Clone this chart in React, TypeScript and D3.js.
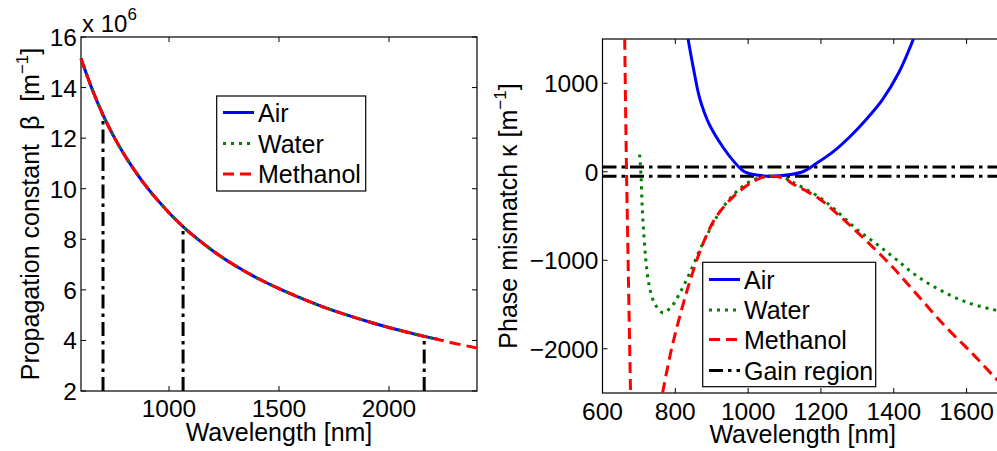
import React from 'react';
import * as d3 from 'd3';

// left panel: propagation constant (x 10^6 m^-1)
const betaWl = [600, 650, 700, 750, 800, 900, 1000, 1064, 1100, 1200, 1300, 1400, 1500, 1600, 1700, 1800, 1900, 2000, 2100, 2160, 2220, 2300, 2400];
const betaMethanol = [15.15, 13.95, 12.92, 12.05, 11.3, 10.05, 9.05, 8.5, 8.22, 7.54, 6.96, 6.47, 6.05, 5.67, 5.33, 5.03, 4.76, 4.51, 4.29, 4.16, 4.05, 3.88, 3.7];
const betaAir = betaMethanol.slice(0, 21);
const betaWater = betaMethanol.slice(0, 21);
const gainWl = [700, 1064, 2160];
const gainBeta = [12.92, 8.5, 4.16];
const betaXTicks = [1000, 1500, 2000];
const betaYTicks = [2, 4, 6, 8, 10, 12, 14, 16];

// right panel: phase mismatch (m^-1)
const airWl = [835, 851, 867, 894, 931, 960, 990, 1030, 1070, 1110, 1150, 1186, 1232, 1278, 1323, 1369, 1415, 1454];
const airK = [1500, 1141, 830, 530, 277, 120, 0, -40, -52, -35, 0, 90, 221, 390, 585, 815, 1130, 1500];
const waterWl = [702, 706, 709, 714, 720, 729, 743, 766, 789, 812, 839, 867, 894, 922, 958, 995, 1030, 1064, 1100, 1122, 1195, 1241, 1296, 1351, 1405, 1460, 1524, 1597, 1670, 1700];
const waterK = [195, -60, -398, -736, -1036, -1300, -1486, -1592, -1525, -1374, -1149, -886, -661, -455, -267, -135, -70, -50, -70, -117, -286, -436, -642, -811, -985, -1168, -1330, -1470, -1555, -1580];
const methA_Wl = [661, 663.5, 666, 669, 672.5, 677];
const methA_K = [1500, 700, 0, -700, -1500, -2500];
const methB_Wl = [765, 789, 817, 844, 876, 912, 958, 1004, 1035, 1064, 1100, 1122, 1195, 1259, 1323, 1396, 1469, 1542, 1615, 1675, 1700];
const methB_K = [-2500, -2012, -1562, -1187, -811, -511, -286, -135, -70, -50, -75, -135, -304, -529, -774, -1074, -1412, -1750, -2050, -2313, -2420];
const gainK = [55, -50];
const kXTicks = [600, 800, 1000, 1200, 1400, 1600];
const kYTicks = [-2000, -1000, 0, 1000];

const FONT = '"Liberation Sans", Arial, Helvetica, sans-serif';
const BLUE = '#0000ff';
const GREEN = '#008000';
const RED = '#ff0000';
const DASH = '11,6';
const DOT = '3,5';
const DASHDOT = '14,5,3.5,5';
const LW = 3;

const zip = (a: number[], b: number[]) => a.map((v, i) => [v, b[i]] as [number, number]);
const fmt = (v: number) => (v < 0 ? '\u2212' + Math.abs(v) : String(v));

const App = () => {
    // left axes
    const x1 = d3.scaleLinear([600, 2400], [81, 477]);
    const y1 = d3.scaleLinear([2, 16], [391, 37]);
    const line1 = d3
        .line<[number, number]>()
        .x(d => x1(d[0]))
        .y(d => y1(d[1]))
        .curve(d3.curveCatmullRom.alpha(0.5));

    // right axes (right border runs off the page)
    const x2 = d3.scaleLinear([600, 1700], [602.5, 1003]);
    const y2 = d3.scaleLinear([-2500, 1500], [393, 39]);
    const line2 = d3
        .line<[number, number]>()
        .x(d => x2(d[0]))
        .y(d => y2(d[1]))
        .curve(d3.curveCatmullRom.alpha(0.5));

    const tick = 5;
    const [l1, r1] = x1.range();
    const [b1, t1] = y1.range();
    const [l2, r2] = x2.range();
    const [b2, t2] = y2.range();

    const legendRow = (
        x: number,
        y: number,
        color: string,
        dash: string | undefined,
        label: string
    ) => (
        <g key={label}>
            <line x1={x} x2={x + 31} y1={y} y2={y} stroke={color} strokeWidth={LW} strokeDasharray={dash} />
            <text x={x + 35} y={y + 9} fontSize={25}>
                {label}
            </text>
        </g>
    );

    return (
        <svg
            width={997}
            height={451}
            style={{ position: 'absolute', left: 0, top: 0, background: '#fff' }}
            fontFamily={FONT}
        >
            <defs>
                <clipPath id='clip2'>
                    <rect x={l2} y={t2} width={r2 - l2} height={b2 - t2} />
                </clipPath>
            </defs>

            {/* ---------- left panel ---------- */}
            <rect x={l1} y={t1} width={r1 - l1} height={b1 - t1} fill='#fff' stroke='#000' strokeWidth={1.2} />
            {betaXTicks.map(v => (
                <g key={'bx' + v}>
                    <line x1={x1(v)} x2={x1(v)} y1={b1} y2={b1 - tick} stroke='#000' />
                    <line x1={x1(v)} x2={x1(v)} y1={t1} y2={t1 + tick} stroke='#000' />
                    <text x={x1(v)} y={b1 + 26} fontSize={24.5} textAnchor='middle'>
                        {v}
                    </text>
                </g>
            ))}
            {betaYTicks.map(v => (
                <g key={'by' + v}>
                    <line x1={l1} x2={l1 + tick} y1={y1(v)} y2={y1(v)} stroke='#000' />
                    <line x1={r1} x2={r1 - tick} y1={y1(v)} y2={y1(v)} stroke='#000' />
                    <text x={l1 - 4} y={y1(v) + 9} fontSize={24.5} textAnchor='end'>
                        {v}
                    </text>
                </g>
            ))}
            <text x={82} y={32} fontSize={24}>
                x 10
                <tspan fontSize={17} dy={-12}>
                    6
                </tspan>
            </text>
            {gainWl.map((w, i) => (
                <line
                    key={'g' + w}
                    x1={x1(w)}
                    x2={x1(w)}
                    y1={b1}
                    y2={y1(gainBeta[i])}
                    stroke='#000'
                    strokeWidth={LW}
                    strokeDasharray={DASHDOT}
                />
            ))}
            <path d={line1(zip(betaWl.slice(0, betaAir.length), betaAir)) ?? ''} fill='none' stroke={BLUE} strokeWidth={LW} />
            <path d={line1(zip(betaWl.slice(0, betaWater.length), betaWater)) ?? ''} fill='none' stroke={GREEN} strokeWidth={LW} strokeDasharray={DOT} />
            <path d={line1(zip(betaWl, betaMethanol)) ?? ''} fill='none' stroke={RED} strokeWidth={LW} strokeDasharray={DASH} />

            <rect x={216.7} y={96} width={149} height={95} fill='#fff' stroke='#000' strokeWidth={1.2} />
            {legendRow(223, 112.5, BLUE, undefined, 'Air')}
            {legendRow(223, 143.5, GREEN, DOT, 'Water')}
            {legendRow(223, 174, RED, DASH, 'Methanol')}

            <text
                transform={`translate(39,${(t1 + b1) / 2}) rotate(-90)`}
                fontSize={25}
                textAnchor='middle'
                style={{ whiteSpace: 'pre' }}
            >
                {'Propagation constant  \u03b2  [m'}
                <tspan fontSize={17} dy={-11}>
                    {'\u22121'}
                </tspan>
                <tspan dy={11}>]</tspan>
            </text>
            <text x={(l1 + r1) / 2} y={441} fontSize={25} textAnchor='middle'>
                Wavelength [nm]
            </text>

            {/* ---------- right panel ---------- */}
            <rect x={l2} y={t2} width={r2 - l2} height={b2 - t2} fill='#fff' stroke='#000' strokeWidth={1.2} />
            {kXTicks.map(v => (
                <g key={'kx' + v}>
                    <line x1={x2(v)} x2={x2(v)} y1={b2} y2={b2 - tick} stroke='#000' />
                    <line x1={x2(v)} x2={x2(v)} y1={t2} y2={t2 + tick} stroke='#000' />
                    <text x={x2(v)} y={b2 + 27} fontSize={24.5} textAnchor='middle'>
                        {v}
                    </text>
                </g>
            ))}
            {kYTicks.map(v => (
                <g key={'ky' + v}>
                    <line x1={l2} x2={l2 + tick} y1={y2(v)} y2={y2(v)} stroke='#000' />
                    <text x={l2 - 4} y={y2(v) + 9} fontSize={24.5} textAnchor='end'>
                        {fmt(v)}
                    </text>
                </g>
            ))}
            <g clipPath='url(#clip2)'>
                {gainK.map(k => (
                    <line
                        key={'gk' + k}
                        x1={l2}
                        x2={r2}
                        y1={y2(k)}
                        y2={y2(k)}
                        stroke='#000'
                        strokeWidth={LW}
                        strokeDasharray={DASHDOT}
                    />
                ))}
                <path d={line2(zip(airWl, airK)) ?? ''} fill='none' stroke={BLUE} strokeWidth={LW} />
                <path d={line2(zip(waterWl, waterK)) ?? ''} fill='none' stroke={GREEN} strokeWidth={LW} strokeDasharray={DOT} />
                <path d={line2(zip(methA_Wl, methA_K)) ?? ''} fill='none' stroke={RED} strokeWidth={LW} strokeDasharray={DASH} />
                <path d={line2(zip(methB_Wl, methB_K)) ?? ''} fill='none' stroke={RED} strokeWidth={LW} strokeDasharray={DASH} />
            </g>

            <rect x={702.7} y={262.3} width={173} height={124.4} fill='#fff' stroke='#000' strokeWidth={1.2} />
            {legendRow(709, 279.5, BLUE, undefined, 'Air')}
            {legendRow(709, 310, GREEN, DOT, 'Water')}
            {legendRow(709, 339.5, RED, DASH, 'Methanol')}
            {legendRow(709, 370.5, '#000', DASHDOT, 'Gain region')}

            <text
                transform={`translate(517,${(t2 + b2) / 2}) rotate(-90)`}
                fontSize={25}
                textAnchor='middle'
                style={{ whiteSpace: 'pre' }}
            >
                {'Phase mismatch \u03ba [m'}
                <tspan fontSize={17} dy={-11}>
                    {'\u22121'}
                </tspan>
                <tspan dy={11}>]</tspan>
            </text>
            <text x={(l2 + r2) / 2} y={443} fontSize={25} textAnchor='middle'>
                Wavelength [nm]
            </text>
        </svg>
    );
};

export default App;
